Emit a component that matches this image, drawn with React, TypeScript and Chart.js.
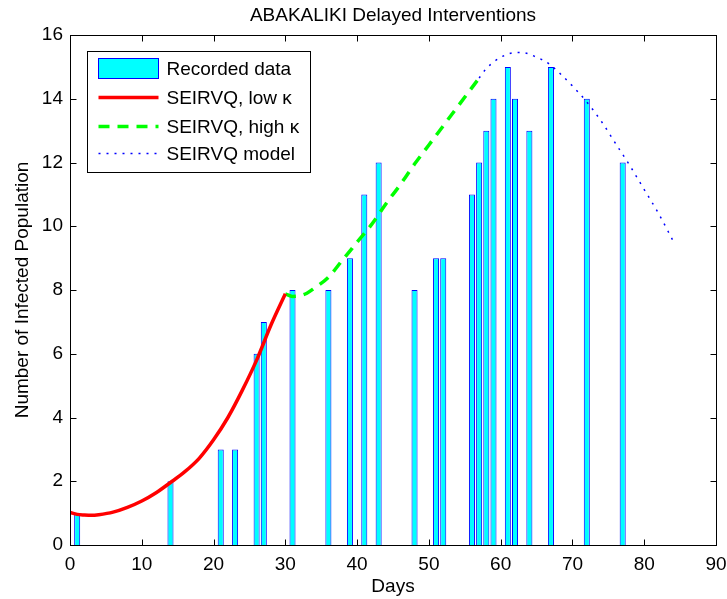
import React, { useEffect, useRef } from "react";
import { Chart, registerables } from "chart.js";

Chart.register(...registerables);

const chartTitle = "ABAKALIKI Delayed Interventions";
const xTitle = "Days";
const yTitle = "Number of Infected Population";

const xTickValues = [0, 10, 20, 30, 40, 50, 60, 70, 80, 90];
const yTickValues = [0, 2, 4, 6, 8, 10, 12, 14, 16];

const barDays = [1, 14, 21, 23, 26, 27, 31, 36, 39, 41, 43, 48, 51, 52, 56, 57, 58, 59, 61, 62, 64, 67, 72, 77];
const barCounts = [1, 2, 3, 3, 6, 7, 8, 8, 9, 11, 12, 8, 9, 9, 11, 12, 13, 14, 15, 14, 13, 15, 14, 12];

const lowDays = [0, 1, 2, 3, 4, 6, 8, 10, 12, 14, 16, 18, 20, 22, 24, 26, 28, 30];
const lowValues = [1.02, 0.96, 0.94, 0.93, 0.95, 1.03, 1.18, 1.38, 1.64, 1.96, 2.3, 2.72, 3.3, 4.0, 4.85, 5.8, 6.9, 7.88];

const highDays = [30, 31, 32, 33, 34, 36, 38, 40, 42, 44, 46, 48, 50, 52, 54, 56, 57];
const highValues = [7.88, 7.8, 7.82, 7.9, 8.05, 8.4, 8.95, 9.5, 10.05, 10.7, 11.3, 11.95, 12.55, 13.15, 13.75, 14.35, 14.65];

const modelDays = [57, 58, 59, 60, 61, 62, 63, 64, 65, 66, 67, 68, 70, 72, 74, 76, 78, 80, 82, 84];
const modelValues = [14.65, 14.95, 15.15, 15.3, 15.4, 15.45, 15.45, 15.4, 15.3, 15.2, 15.05, 14.85, 14.4, 13.9, 13.3, 12.6, 11.9, 11.15, 10.4, 9.55];

const seriesLabels = ["Recorded data", "SEIRVQ, low \u03ba", "SEIRVQ, high \u03ba", "SEIRVQ model"];

const FONT = "'Liberation Sans', Arial, Helvetica, sans-serif";

const toPoints = (xs: number[], ys: number[]) => xs.map((x, i) => ({ x, y: ys[i] }));

const framePlugin = {
  id: "frameAndLegend",
  afterDatasetsDraw(chart: any) {
    const { ctx, chartArea: a, scales } = chart;
    ctx.save();
    ctx.strokeStyle = "#000";
    ctx.lineWidth = 1;
    const L = Math.round(a.left) + 0.5;
    const R = Math.round(a.right) + 0.5;
    const T = Math.round(a.top) + 0.5;
    const B = Math.round(a.bottom) + 0.5;
    const seg = (x1: number, y1: number, x2: number, y2: number) => {
      ctx.beginPath();
      ctx.moveTo(x1, y1);
      ctx.lineTo(x2, y2);
      ctx.stroke();
    };
    const tl = 6;
    xTickValues.forEach((v) => {
      const x = Math.round(scales.x.getPixelForValue(v)) + 0.5;
      seg(x, B, x, B - tl);
      seg(x, T, x, T + tl);
    });
    yTickValues.forEach((v) => {
      const y = Math.round(scales.y.getPixelForValue(v)) + 0.5;
      seg(L, y, L + tl, y);
      seg(R, y, R - tl, y);
    });
    ctx.strokeRect(L, T, R - L, B - T);

    // title, centred over the axes
    ctx.fillStyle = "#000";
    ctx.font = `19px ${FONT}`;
    ctx.textAlign = "center";
    ctx.textBaseline = "alphabetic";
    ctx.fillText(chartTitle, (a.left + a.right) / 2, 21);

    // legend box
    const bx = Math.round(a.left) + 17.5;
    const by = Math.round(a.top) + 16.5;
    const bw = 223;
    const bh = 121;
    ctx.fillStyle = "#fff";
    ctx.fillRect(bx, by, bw, bh);
    ctx.strokeStyle = "#000";
    ctx.lineWidth = 1;
    ctx.strokeRect(bx, by, bw, bh);

    const ds = chart.data.datasets;
    const sx1 = bx + 11;
    const sx2 = bx + 71;
    const tx = bx + 79;
    const rows = [by + 17, by + 46, by + 75, by + 102];

    // bar swatch
    ctx.fillStyle = ds[0].backgroundColor;
    ctx.fillRect(sx1, rows[0] - 10, sx2 - sx1, 20);
    ctx.strokeStyle = ds[0].borderColor;
    ctx.strokeRect(sx1, rows[0] - 10, sx2 - sx1, 20);

    for (let i = 1; i < 4; i++) {
      ctx.strokeStyle = ds[i].borderColor;
      ctx.lineWidth = ds[i].borderWidth;
      ctx.setLineDash(ds[i].borderDash || []);
      ctx.beginPath();
      ctx.moveTo(sx1, rows[i]);
      ctx.lineTo(sx2, rows[i]);
      ctx.stroke();
    }
    ctx.setLineDash([]);

    ctx.fillStyle = "#000";
    ctx.font = `19px ${FONT}`;
    ctx.textAlign = "left";
    ctx.textBaseline = "middle";
    for (let i = 0; i < 4; i++) ctx.fillText(ds[i].label, tx, rows[i] + 1);
    ctx.restore();
  },
};

export default function App() {
  const ref = useRef<HTMLCanvasElement | null>(null);

  useEffect(() => {
    document.body.style.margin = "0";
    const canvas = ref.current;
    if (!canvas) return;
    const chart = new Chart(canvas, {
      type: "bar",
      data: {
        datasets: [
          {
            type: "bar",
            label: seriesLabels[0],
            data: toPoints(barDays, barCounts),
            backgroundColor: "#00ffff",
            borderColor: "#0000ff",
            borderWidth: 1,
            barPercentage: 1,
            categoryPercentage: 0.84,
            order: 4,
          } as any,
          {
            type: "line",
            label: seriesLabels[1],
            data: toPoints(lowDays, lowValues),
            borderColor: "#ff0000",
            borderWidth: 3.5,
            pointRadius: 0,
            cubicInterpolationMode: "monotone",
            fill: false,
            order: 1,
          } as any,
          {
            type: "line",
            label: seriesLabels[2],
            data: toPoints(highDays, highValues),
            borderColor: "#00ff00",
            borderWidth: 3.5,
            borderDash: [11, 8],
            pointRadius: 0,
            cubicInterpolationMode: "monotone",
            fill: false,
            order: 2,
          } as any,
          {
            type: "line",
            label: seriesLabels[3],
            data: toPoints(modelDays, modelValues),
            borderColor: "#0000ff",
            borderWidth: 1.5,
            borderDash: [2, 6],
            pointRadius: 0,
            cubicInterpolationMode: "monotone",
            fill: false,
            order: 3,
          } as any,
        ],
      },
      options: {
        animation: false,
        responsive: false,
        maintainAspectRatio: false,
        devicePixelRatio: 1,
        layout: { padding: { top: 35, right: 11, bottom: 0, left: 0 } },
        plugins: {
          legend: { display: false },
          title: { display: false },
          tooltip: { enabled: false },
        },
        scales: {
          x: {
            type: "linear",
            min: 0,
            max: 90,
            offset: false,
            afterFit: (s: any) => {
              s.height = 54;
              s.paddingLeft = 0;
              s.paddingRight = 0;
            },
            afterBuildTicks: (s: any) => {
              s.ticks = xTickValues.map((v) => ({ value: v }));
            },
            grid: { display: false, drawTicks: false },
            border: { display: false },
            ticks: {
              color: "#000",
              padding: 8,
              maxRotation: 0,
              font: { family: FONT, size: 19 },
            },
            title: {
              display: true,
              text: xTitle,
              color: "#000",
              font: { family: FONT, size: 19 },
              padding: { top: 0, bottom: 1 },
            },
          },
          y: {
            type: "linear",
            min: 0,
            max: 16,
            afterFit: (s: any) => {
              s.width = 70;
              s.paddingTop = 0;
              s.paddingBottom = 0;
            },
            afterBuildTicks: (s: any) => {
              s.ticks = yTickValues.map((v) => ({ value: v }));
            },
            grid: { display: false, drawTicks: false },
            border: { display: false },
            ticks: {
              color: "#000",
              padding: 7,
              font: { family: FONT, size: 19 },
            },
            title: {
              display: true,
              text: yTitle,
              color: "#000",
              font: { family: FONT, size: 19 },
              padding: { top: 11, bottom: 0 },
            },
          },
        },
      },
      plugins: [framePlugin],
    });
    return () => chart.destroy();
  }, []);

  return (
    <div style={{ position: "fixed", left: 0, top: 0, width: 727, height: 599, background: "#fff" }}>
      <canvas ref={ref} width={727} height={599} style={{ width: 727, height: 599, display: "block" }} />
    </div>
  );
}
